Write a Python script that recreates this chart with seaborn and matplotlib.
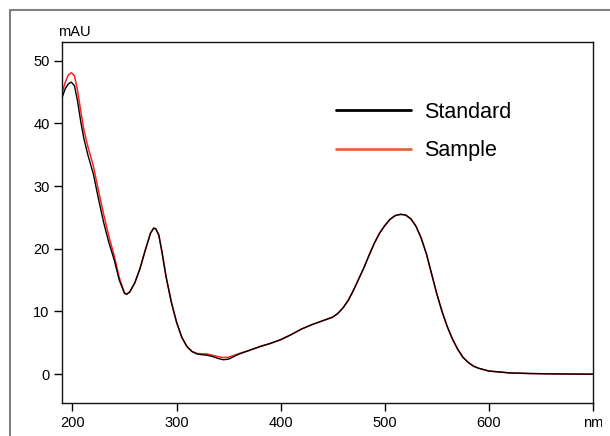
import matplotlib
matplotlib.use("Agg")
import matplotlib.pyplot as plt
from matplotlib.lines import Line2D
from matplotlib.patches import Rectangle
import seaborn as sns
import pandas as pd

# wavelength (nm) and absorbance (mAU)
wavelength = [190, 193, 196, 199, 202, 205, 208, 211, 215, 220, 225, 230, 235, 240, 245, 250,
              252, 255, 260, 265, 270, 275, 278, 280, 283, 286, 290, 295, 300, 305, 310, 315,
              320, 330, 335, 340, 345, 350, 355, 360, 370, 380, 390, 400, 410, 420, 430, 440,
              450, 455, 460, 465, 470, 475, 480, 485, 490, 495, 500, 505, 510, 515, 520, 525,
              530, 535, 540, 545, 550, 555, 560, 565, 570, 575, 580, 585, 590, 600, 610, 620,
              640, 660, 680, 700]

standard = [44.1, 45.5, 46.3, 46.6, 46.0, 43.5, 40.3, 37.6, 34.9, 32.0, 28.0, 24.2, 21.0, 18.3, 15.0, 12.9,
            12.75, 13.1, 14.6, 16.9, 19.8, 22.5, 23.3, 23.2, 22.2, 19.5, 15.5, 11.5, 8.3, 5.9, 4.4, 3.6,
            3.2, 3.0, 2.8, 2.5, 2.3, 2.4, 2.8, 3.2, 3.8, 4.4, 4.9, 5.5, 6.3, 7.2, 7.9, 8.5,
            9.1, 9.7, 10.6, 11.8, 13.4, 15.2, 17.0, 19.0, 20.9, 22.5, 23.7, 24.7, 25.3, 25.5, 25.4, 24.8,
            23.6, 21.7, 19.2, 16.0, 12.8, 10.0, 7.6, 5.6, 4.0, 2.7, 1.9, 1.3, 0.95, 0.5, 0.35, 0.2,
            0.1, 0.05, 0.02, 0.0]

sample = [44.8, 46.5, 47.7, 48.1, 47.6, 45.2, 42.0, 39.0, 36.2, 33.3, 29.3, 25.5, 22.0, 19.0, 15.4, 13.0,
          12.75, 13.1, 14.6, 16.9, 19.8, 22.5, 23.3, 23.2, 22.2, 19.5, 15.5, 11.5, 8.3, 5.9, 4.4, 3.6,
          3.3, 3.2, 3.0, 2.8, 2.65, 2.7, 3.0, 3.3, 3.8, 4.4, 4.9, 5.5, 6.3, 7.2, 7.9, 8.5,
          9.1, 9.7, 10.6, 11.8, 13.4, 15.2, 17.0, 19.0, 20.9, 22.5, 23.7, 24.7, 25.3, 25.5, 25.4, 24.8,
          23.6, 21.7, 19.2, 16.0, 12.8, 10.0, 7.6, 5.6, 4.0, 2.7, 1.9, 1.3, 0.95, 0.5, 0.35, 0.2,
          0.1, 0.05, 0.02, 0.0]

x_ticks = [200, 300, 400, 500, 600, 700]
x_labels = ['200', '300', '400', '500', '600', 'nm']
y_ticks = [0, 10, 20, 30, 40, 50]

sns.set_style('white')
plt.rcParams['font.family'] = ['Liberation Sans', 'DejaVu Sans']
plt.rcParams['text.color'] = 'black'
plt.rcParams['xtick.color'] = 'black'
plt.rcParams['ytick.color'] = 'black'

df = pd.DataFrame({'nm': wavelength, 'Standard': standard, 'Sample': sample})

fig = plt.figure(figsize=(6.1, 4.36), dpi=100)
ax = fig.add_axes([62 / 610, 1 - 403 / 436, 531 / 610, 361 / 436])

# outer frame: only its left and top edges fall inside the image
fx, fy = 9.5 / 610, 1 - 10.5 / 436
fig.add_artist(Line2D([fx, fx], [0, fy], transform=fig.transFigure, color='#808080', linewidth=1.5))
fig.add_artist(Line2D([fx, 1], [fy, fy], transform=fig.transFigure, color='#808080', linewidth=1.5))
# keep the far right margin clean
fig.add_artist(Rectangle((601.5 / 610, 0), 8.5 / 610, fy - 0.006, transform=fig.transFigure,
                         facecolor='white', edgecolor='none', zorder=10))

sns.lineplot(data=df, x='nm', y='Sample', ax=ax, color='#ff2020', linewidth=1.1, estimator=None)
sns.lineplot(data=df, x='nm', y='Standard', ax=ax, color='black', linewidth=1.0, estimator=None)

ax.set_xlim(190, 700)
ax.set_ylim(-4.6, 53)
ax.set_xticks(x_ticks)
ax.set_xticklabels(x_labels)
ax.set_yticks(y_ticks)
ax.set_xlabel('')
ax.set_ylabel('')
ax.tick_params(axis='both', which='major', direction='out', length=5.5, width=1.0,
               colors='black', labelsize=10.5, pad=3.5, bottom=True, left=True)
for s in ax.spines.values():
    s.set_color('#111111')
    s.set_linewidth(1.0)

fig.text(58 / 610, 1 - 36 / 436, 'mAU', fontsize=10.5, va='baseline', ha='left')

handles = [Line2D([], [], color='black', linewidth=2.0),
           Line2D([], [], color='#e8653a', linewidth=2.0)]
ax.legend(handles, ['Standard', 'Sample'], loc='upper left', frameon=False,
          bbox_to_anchor=(336 / 610, 1 - 102 / 436), bbox_transform=fig.transFigure,
          fontsize=15.5, handlelength=3.5, handletextpad=0.6, labelspacing=0.8,
          borderaxespad=0, borderpad=0, labelcolor='black')

fig.savefig('out.png', dpi=100)
